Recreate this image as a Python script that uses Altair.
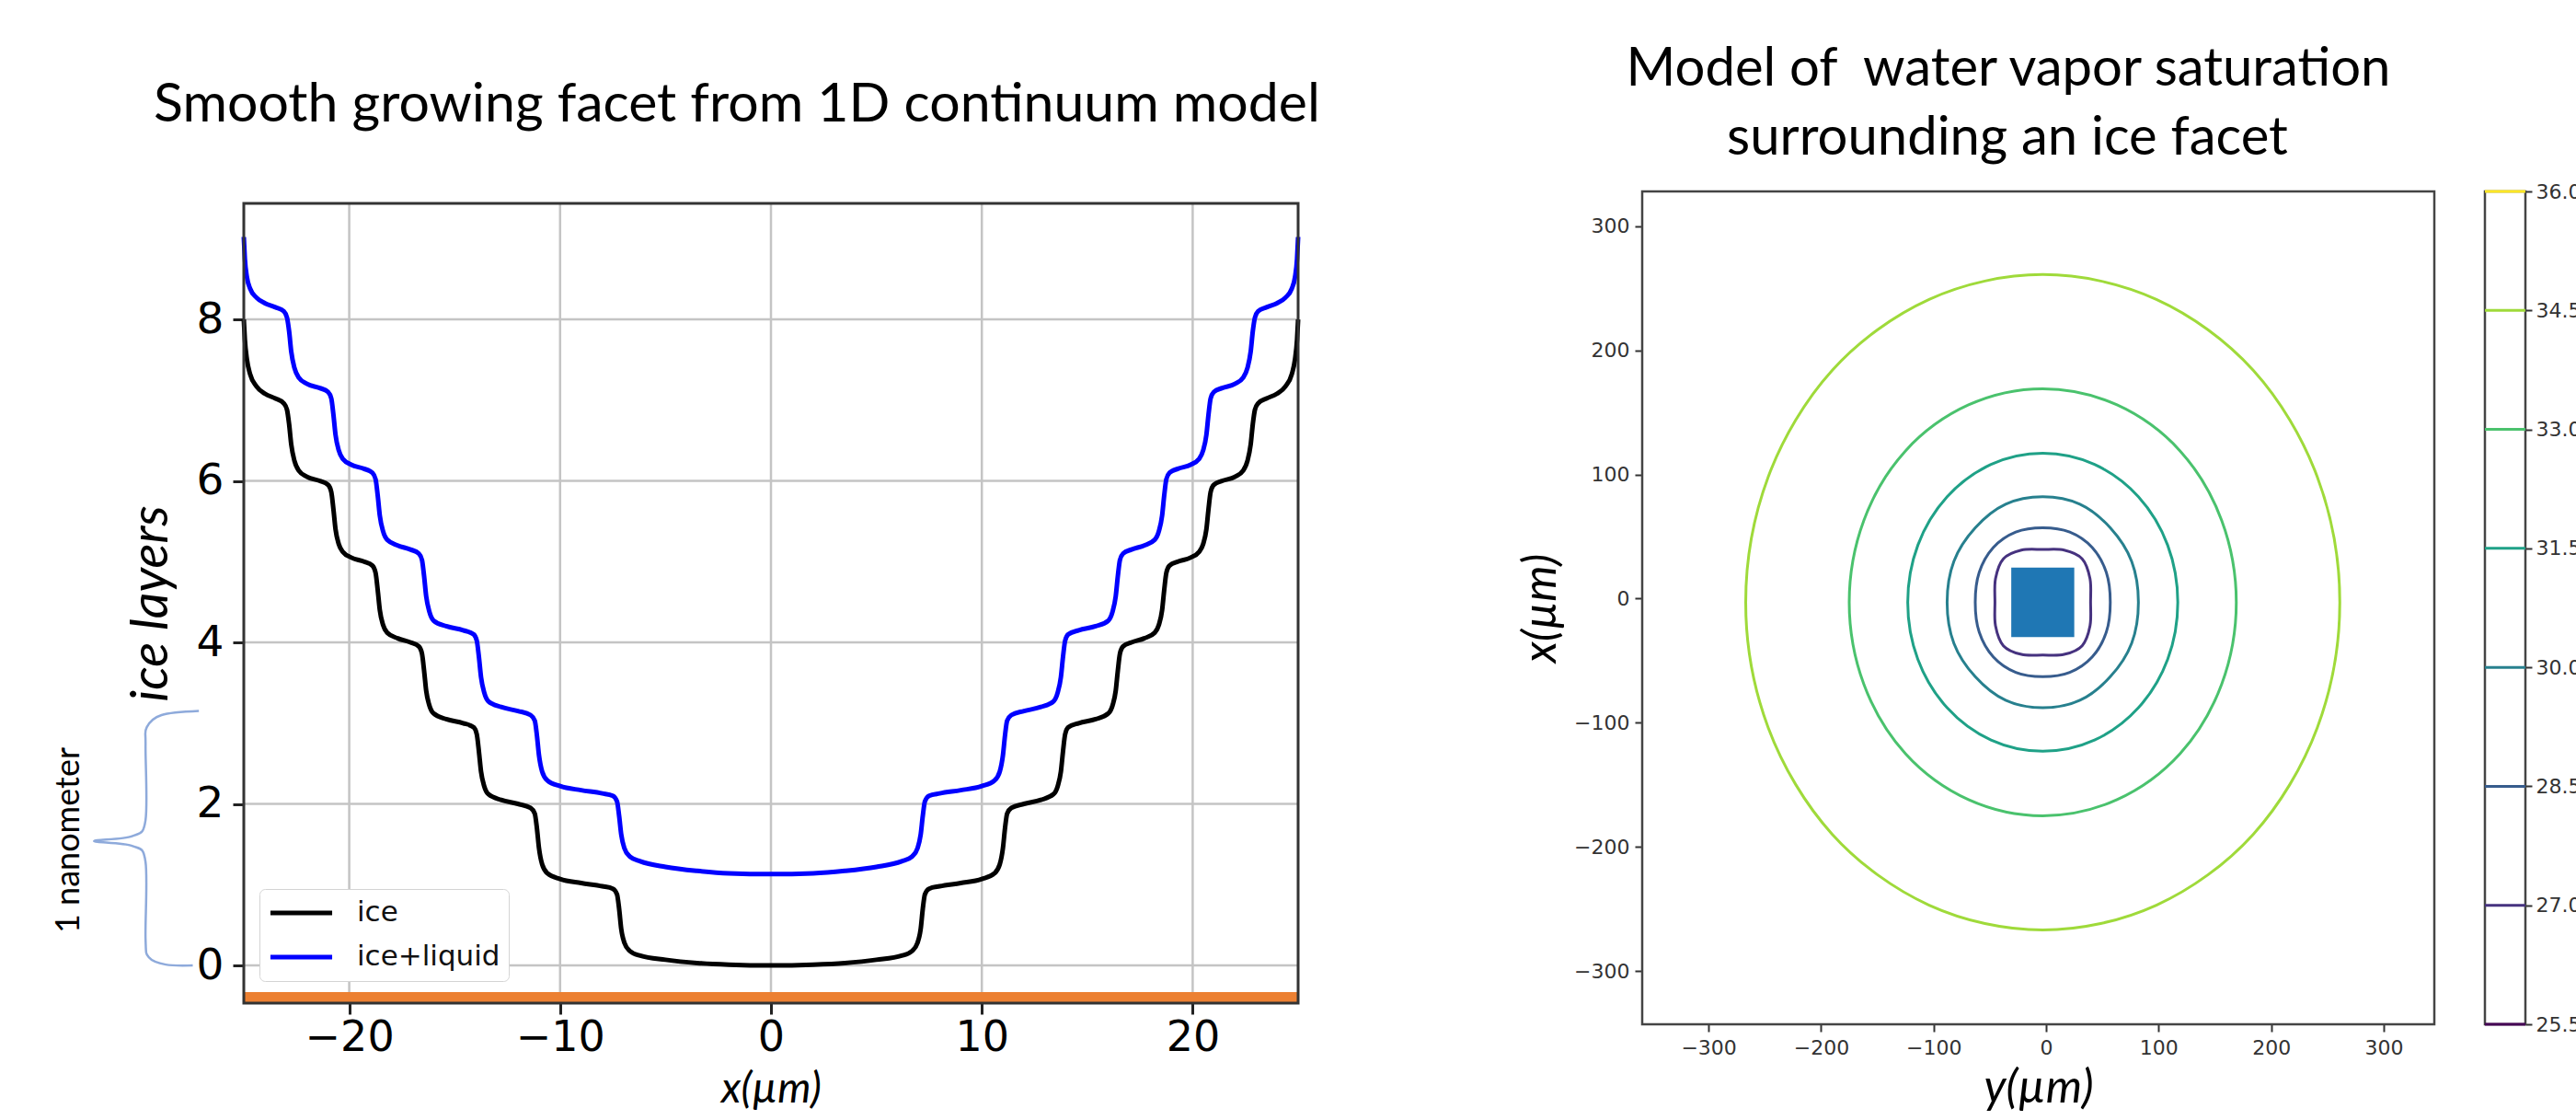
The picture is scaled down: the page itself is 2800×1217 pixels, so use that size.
import altair as alt
import pandas as pd

W, H = 2800, 1217

# ---------------- data: left panel (1D continuum model) ----------------
x_left = [-25.0, -24.95, -24.85, -24.7, -24.4, -24.0, -23.5, -23.1, -22.95, -22.85, -22.75, -22.6,
          -22.4, -22.0, -21.4, -21.0, -20.85, -20.75, -20.65, -20.5, -20.3, -19.9, -19.3, -18.9,
          -18.75, -18.65, -18.55, -18.4, -18.2, -17.7, -17.1, -16.7, -16.55, -16.45, -16.35, -16.2,
          -16.0, -15.4, -14.6, -14.1, -13.95, -13.85, -13.75, -13.6, -13.4, -12.8, -12.0, -11.4,
          -11.2, -11.1, -11.0, -10.85, -10.6, -10.0, -9.0, -8.0, -7.5, -7.3, -7.2, -7.1, -6.95,
          -6.7, -6.2, -5.0, -3.5, -2.0, 0.0]
x_right = [2.0, 3.5, 5.0, 6.2, 6.7, 6.95, 7.1, 7.2, 7.3, 7.5, 8.0, 9.0, 10.0, 10.6, 10.85, 11.0,
           11.1, 11.2, 11.4, 12.0, 12.8, 13.4, 13.6, 13.75, 13.85, 13.95, 14.1, 14.6, 15.4, 16.0,
           16.2, 16.35, 16.45, 16.55, 16.7, 17.1, 17.7, 18.2, 18.4, 18.55, 18.65, 18.75, 18.9,
           19.3, 19.9, 20.3, 20.5, 20.65, 20.75, 20.85, 21.0, 21.4, 22.0, 22.4, 22.6, 22.75,
           22.85, 22.95, 23.1, 23.5, 24.0, 24.4, 24.7, 24.85, 24.95, 25.0]
ice_left = [8.00, 7.75, 7.50, 7.32, 7.17, 7.08, 7.02, 6.96, 6.88, 6.70, 6.45, 6.25, 6.13, 6.05,
            6.00, 5.95, 5.86, 5.65, 5.40, 5.22, 5.12, 5.05, 5.00, 4.95, 4.86, 4.65, 4.40, 4.22,
            4.12, 4.05, 4.00, 3.95, 3.86, 3.65, 3.40, 3.22, 3.12, 3.05, 3.00, 2.95, 2.86, 2.65,
            2.40, 2.22, 2.12, 2.05, 2.00, 1.95, 1.88, 1.70, 1.45, 1.25, 1.14, 1.07, 1.02, 0.98,
            0.95, 0.88, 0.70, 0.45, 0.28, 0.18, 0.12, 0.07, 0.03, 0.01, 0.00]
ice_right = [0.01, 0.03, 0.07, 0.12, 0.18, 0.28, 0.45, 0.70, 0.88, 0.95, 0.98, 1.02, 1.07, 1.14,
             1.25, 1.45, 1.70, 1.88, 1.95, 2.00, 2.05, 2.12, 2.22, 2.40, 2.65, 2.86, 2.95, 3.00,
             3.05, 3.12, 3.22, 3.40, 3.65, 3.86, 3.95, 4.00, 4.05, 4.12, 4.22, 4.40, 4.65, 4.86,
             4.95, 5.00, 5.05, 5.12, 5.22, 5.40, 5.65, 5.86, 5.95, 6.00, 6.05, 6.13, 6.25, 6.45,
             6.70, 6.88, 6.96, 7.02, 7.08, 7.17, 7.32, 7.50, 7.75, 8.00]
liquid_left = [9.02, 8.75, 8.52, 8.38, 8.27, 8.20, 8.15, 8.10, 8.02, 7.85, 7.60, 7.40, 7.28, 7.20,
               7.15, 7.10, 7.02, 6.82, 6.57, 6.38, 6.27, 6.20, 6.15, 6.10, 6.02, 5.82, 5.57, 5.38,
               5.27, 5.20, 5.15, 5.10, 5.02, 4.82, 4.57, 4.38, 4.27, 4.20, 4.15, 4.10, 4.02, 3.82,
               3.57, 3.38, 3.27, 3.20, 3.15, 3.10, 3.03, 2.85, 2.60, 2.40, 2.29, 2.22, 2.17, 2.13,
               2.10, 2.03, 1.85, 1.62, 1.45, 1.35, 1.29, 1.22, 1.17, 1.14, 1.13]
liquid_right = [1.14, 1.17, 1.22, 1.29, 1.35, 1.45, 1.62, 1.85, 2.03, 2.10, 2.13, 2.17, 2.22, 2.29,
                2.40, 2.60, 2.85, 3.03, 3.10, 3.15, 3.20, 3.27, 3.38, 3.57, 3.82, 4.02, 4.10, 4.15,
                4.20, 4.27, 4.38, 4.57, 4.82, 5.02, 5.10, 5.15, 5.20, 5.27, 5.38, 5.57, 5.82, 6.02,
                6.10, 6.15, 6.20, 6.27, 6.38, 6.57, 6.82, 7.02, 7.10, 7.15, 7.20, 7.28, 7.40, 7.60,
                7.85, 8.02, 8.10, 8.15, 8.20, 8.27, 8.38, 8.52, 8.75, 9.02]
series_names = ["ice", "ice+liquid"]
series_colors = ["#000000", "#0000ff"]

left_x_ticks = [-20, -10, 0, 10, 20]
left_y_ticks = [0, 2, 4, 6, 8]
left_x_domain = [-25, 25]
left_y_domain = [-0.467, 9.436]
substrate_level = [-0.40]

brace_x = [-27.13, -28.9, -29.6, -29.66, -29.66, -30.3, -32.1, -30.3, -29.66, -29.66, -29.5, -28.7, -27.42]
brace_y = [3.15, 3.10, 2.95, 2.72, 1.80, 1.60, 1.54, 1.48, 1.28, 0.33, 0.10, 0.01, 0.0]

# ---------------- data: right panel (vapor saturation contours) ----------------
contour_levels = [27.0, 28.5, 30.0, 31.5, 33.0, 34.5]
contour_x = [
    [39.5, 39, 32, 16, -3, -22, -38, -45, -45.5, -45, -38, -22, -3, 16, 32, 39],
    [57, 53.5, 41, 21, -3, -27, -47, -59.5, -63, -59.5, -47, -27, -3, 21, 41, 53.5],
    [82, 76, 57, 30, -3, -36, -63, -82, -88, -82, -63, -36, -3, 30, 57, 76],
    [117, 108, 82, 43, -3, -49, -88, -114, -123, -114, -88, -49, -3, 43, 82, 108],
    [169, 156, 119, 63, -3, -69, -125, -162, -175, -162, -125, -69, -3, 63, 119, 156],
    [261, 241, 184, 98, -3, -104, -190, -247, -267, -247, -190, -104, -3, 98, 184, 241],
]
contour_y = [
    [-3, 16, 32, 39, 39.5, 39, 32, 16, -3, -22, -38, -45, -45.5, -45, -38, -22],
    [-3, 21, 41, 53.5, 57, 53.5, 41, 21, -3, -27, -47, -59.5, -63, -59.5, -47, -27],
    [-3, 30, 57, 76, 82, 76, 57, 30, -3, -36, -63, -82, -88, -82, -63, -36],
    [-3, 43, 82, 108, 117, 108, 82, 43, -3, -49, -88, -114, -123, -114, -88, -49],
    [-3, 63, 119, 156, 169, 156, 119, 63, -3, -69, -125, -162, -175, -162, -125, -69],
    [-3, 98, 184, 241, 261, 241, 184, 98, -3, -104, -190, -247, -267, -247, -190, -104],
]
facet_box_x = [-31, 25]
facet_box_y = [-31, 25]
right_ticks = [-300, -200, -100, 0, 100, 200, 300]
right_x_domain = [-359, 345]
right_y_domain = [-343, 328]
colorbar_levels = [25.5, 27.0, 28.5, 30.0, 31.5, 33.0, 34.5, 36.0]

left_title = "Smooth growing facet from 1D continuum model"
right_title = ["Model of \u00a0water vapor saturation", "surrounding an ice facet"]
brace_label = "1 nanometer"

# ---------------- layout (pixels) ----------------
LX, LY = [265, 1411], [1090, 221]
RX, RY = [1785, 2646], [1113, 208]
CBX = [2701, 2745]


def lsx():
    return alt.Scale(domain=left_x_domain, range=LX, nice=False, zero=False)


def lsy():
    return alt.Scale(domain=left_y_domain, range=LY, nice=False, zero=False)


def rsx():
    return alt.Scale(domain=right_x_domain, range=RX, nice=False, zero=False)


def rsy():
    return alt.Scale(domain=right_y_domain, range=RY, nice=False, zero=False)


def cbx():
    return alt.Scale(domain=[0, 1], range=CBX, nice=False, zero=False)


def cby():
    return alt.Scale(domain=[colorbar_levels[0], colorbar_levels[-1]], range=RY, nice=False, zero=False)


def viridis():
    return alt.Scale(scheme="viridis", domain=[colorbar_levels[0], colorbar_levels[-1]])


layers = []

# --- left: grid ---
n = len(left_x_ticks)
df_vg = pd.DataFrame({"gx": left_x_ticks, "g0": [left_y_domain[0]] * n, "g1": [left_y_domain[1]] * n})
layers.append(alt.Chart(df_vg).mark_rule(color="#c4c4c4", strokeWidth=2.5).encode(
    x=alt.X("gx:Q", scale=lsx(), axis=None),
    y=alt.Y("g0:Q", scale=lsy(), axis=None), y2="g1:Q"))
m = len(left_y_ticks)
df_hg = pd.DataFrame({"gy": left_y_ticks, "g0": [left_x_domain[0]] * m, "g1": [left_x_domain[1]] * m})
layers.append(alt.Chart(df_hg).mark_rule(color="#c4c4c4", strokeWidth=2.5).encode(
    y=alt.Y("gy:Q", scale=lsy(), axis=None),
    x=alt.X("g0:Q", scale=lsx(), axis=None), x2="g1:Q"))

# --- left: substrate line ---
df_sub = pd.DataFrame({"sy": substrate_level, "s0": [left_x_domain[0]], "s1": [left_x_domain[1]]})
layers.append(alt.Chart(df_sub).mark_rule(color="#ec8032", strokeWidth=12).encode(
    y=alt.Y("sy:Q", scale=lsy(), axis=None),
    x=alt.X("s0:Q", scale=lsx(), axis=None), x2="s1:Q"))

# --- left: profiles ---
fx = x_left + x_right
df_curves = pd.DataFrame({
    "x": fx + fx,
    "h": ice_left + ice_right + liquid_left + liquid_right,
    "series": [series_names[0]] * len(fx) + [series_names[1]] * len(fx),
})
layers.append(alt.Chart(df_curves).mark_line(strokeWidth=5, interpolate="monotone").encode(
    x=alt.X("x:Q", scale=lsx(), axis=None),
    y=alt.Y("h:Q", scale=lsy(), axis=None),
    color=alt.Color("series:N", scale=alt.Scale(domain=series_names, range=series_colors),
                    legend=alt.Legend(title=None, orient="none", legendX=282, legendY=966,
                                      symbolType="stroke", symbolSize=4500, symbolStrokeWidth=5,
                                      labelFont="DejaVu Sans", labelFontSize=31, labelColor="#111",
                                      labelOffset=24, padding=9, rowPadding=14, clipHeight=34,
                                      strokeColor="#d4d4d4", fillColor="#ffffff", cornerRadius=6))))

# --- left: frame + axes ---
df_lbox = pd.DataFrame({"x0": [left_x_domain[0]], "x1": [left_x_domain[1]],
                        "y0": [left_y_domain[0]], "y1": [left_y_domain[1]]})
layers.append(alt.Chart(df_lbox).mark_rect(fillOpacity=0, stroke="#333333", strokeWidth=3).encode(
    x=alt.X("x0:Q", scale=lsx(), axis=alt.Axis(
        orient="bottom", offset=-(H - LY[0]), values=left_x_ticks, grid=False, domain=False,
        tickSize=12, tickWidth=3, tickColor="#222", labelFont="DejaVu Sans", labelFontSize=46,
        labelColor="#000", labelPadding=3, labelFlush=False, labelOverlap=False,
        title="x(\u00b5m)", titleFont="Lato", titleFontStyle="italic", titleFontWeight="normal",
        titleFontSize=46, titleColor="#000", titlePadding=11)),
    x2="x1:Q",
    y=alt.Y("y0:Q", scale=lsy(), axis=alt.Axis(
        orient="left", offset=-LX[0], values=left_y_ticks, grid=False, domain=False,
        tickSize=12, tickWidth=3, tickColor="#222", labelFont="DejaVu Sans", labelFontSize=47,
        labelColor="#000", labelPadding=10, labelFlush=False, labelOverlap=False,
        title="ice layers", titleFont="Lato", titleFontStyle="italic", titleFontWeight="normal",
        titleFontSize=56, titleColor="#000", titlePadding=20)),
    y2="y1:Q"))

# --- left: brace annotation ---
df_brace = pd.DataFrame({"bx": brace_x, "by": brace_y, "i": list(range(len(brace_x)))})
layers.append(alt.Chart(df_brace).mark_line(color="#8eaadb", strokeWidth=2.5, interpolate="cardinal").encode(
    x=alt.X("bx:Q", scale=lsx(), axis=None),
    y=alt.Y("by:Q", scale=lsy(), axis=None),
    order="i:Q"))

# --- right: contours ---
rows = []
for lev, xs, ys in zip(contour_levels, contour_x, contour_y):
    for i, (a, b) in enumerate(zip(xs, ys)):
        rows.append({"level": lev, "cx": a, "cy": b, "i": i})
df_cont = pd.DataFrame(rows)
layers.append(alt.Chart(df_cont).mark_line(strokeWidth=3, interpolate="cardinal-closed").encode(
    x=alt.X("cx:Q", scale=rsx(), axis=None),
    y=alt.Y("cy:Q", scale=rsy(), axis=None),
    order="i:Q", detail="level:N",
    color=alt.Color("level:Q", scale=viridis(), legend=None)))

# --- right: ice facet square ---
df_sq = pd.DataFrame({"x0": [facet_box_x[0]], "x1": [facet_box_x[1]],
                      "y0": [facet_box_y[0]], "y1": [facet_box_y[1]]})
layers.append(alt.Chart(df_sq).mark_rect(color="#1f77b4").encode(
    x=alt.X("x0:Q", scale=rsx(), axis=None), x2="x1:Q",
    y=alt.Y("y0:Q", scale=rsy(), axis=None), y2="y1:Q"))

# --- right: frame + axes ---
df_rbox = pd.DataFrame({"x0": [right_x_domain[0]], "x1": [right_x_domain[1]],
                        "y0": [right_y_domain[0]], "y1": [right_y_domain[1]]})
layers.append(alt.Chart(df_rbox).mark_rect(fillOpacity=0, stroke="#444444", strokeWidth=2.5).encode(
    x=alt.X("x0:Q", scale=rsx(), axis=alt.Axis(
        orient="bottom", offset=-(H - RY[0]), values=right_ticks, grid=False, domain=False,
        tickSize=8, tickWidth=2, tickColor="#333", labelFont="DejaVu Sans", labelFontSize=22,
        labelColor="#333", labelPadding=7, labelFlush=False, labelOverlap=False,
        title="y(\u00b5m)", titleFont="Lato", titleFontStyle="italic", titleFontWeight="normal",
        titleFontSize=50, titleColor="#000", titlePadding=8)),
    x2="x1:Q",
    y=alt.Y("y0:Q", scale=rsy(), axis=alt.Axis(
        orient="left", offset=-RX[0], values=right_ticks, grid=False, domain=False,
        tickSize=8, tickWidth=2, tickColor="#333", labelFont="DejaVu Sans", labelFontSize=22,
        labelColor="#333", labelPadding=6, labelFlush=False, labelOverlap=False,
        title="x(\u00b5m)", titleFont="Lato", titleFontStyle="italic", titleFontWeight="normal",
        titleFontSize=50, titleColor="#000", titlePadding=10)),
    y2="y1:Q"))

# --- colorbar ---
df_cb = pd.DataFrame({"c0": [0], "c1": [1], "v0": [colorbar_levels[0]], "v1": [colorbar_levels[-1]]})
layers.append(alt.Chart(df_cb).mark_rect(fill="#ffffff", stroke="#444444", strokeWidth=2.5).encode(
    x=alt.X("c0:Q", scale=cbx(), axis=None), x2="c1:Q",
    y=alt.Y("v0:Q", scale=cby(), axis=alt.Axis(
        orient="right", offset=-(W - CBX[1]), values=colorbar_levels, format=".1f", grid=False,
        domain=False, tickSize=7, tickWidth=2, tickColor="#333", labelFont="DejaVu Sans",
        labelFontSize=22, labelColor="#333", labelPadding=4, labelFlush=False, labelOverlap=False,
        title=None)),
    y2="v1:Q"))
k = len(colorbar_levels)
df_cbl = pd.DataFrame({"level": colorbar_levels, "c0": [0] * k, "c1": [1] * k})
layers.append(alt.Chart(df_cbl).mark_rule(strokeWidth=3).encode(
    x=alt.X("c0:Q", scale=cbx(), axis=None), x2="c1:Q",
    y=alt.Y("level:Q", scale=cby(), axis=None),
    color=alt.Color("level:Q", scale=viridis(), legend=None)))


# --- texts ---
def text_layer(txt, x, y, size, angle=0, baseline="alphabetic", font="Lato"):
    return alt.Chart(pd.DataFrame({"t": [txt]})).mark_text(
        font=font, fontSize=size, angle=angle, align="center", baseline=baseline, color="#000"
    ).encode(text="t:N", x=alt.value(x), y=alt.value(y))


layers.append(text_layer(left_title, 801, 132, 59))
layers.append(text_layer(right_title[0], 2183, 93, 58))
layers.append(text_layer(right_title[1], 2182, 168, 58))
layers.append(text_layer(brace_label, 75, 913, 36, angle=270, baseline="middle"))

chart = alt.layer(*layers).resolve_scale(
    x="independent", y="independent", color="independent"
).properties(
    width=W, height=H, padding=0, autosize=alt.AutoSizeParams(type="none"), background="white"
).configure_view(strokeWidth=0)

chart.save("out.html", embed_options={"renderer": "svg", "actions": False})
